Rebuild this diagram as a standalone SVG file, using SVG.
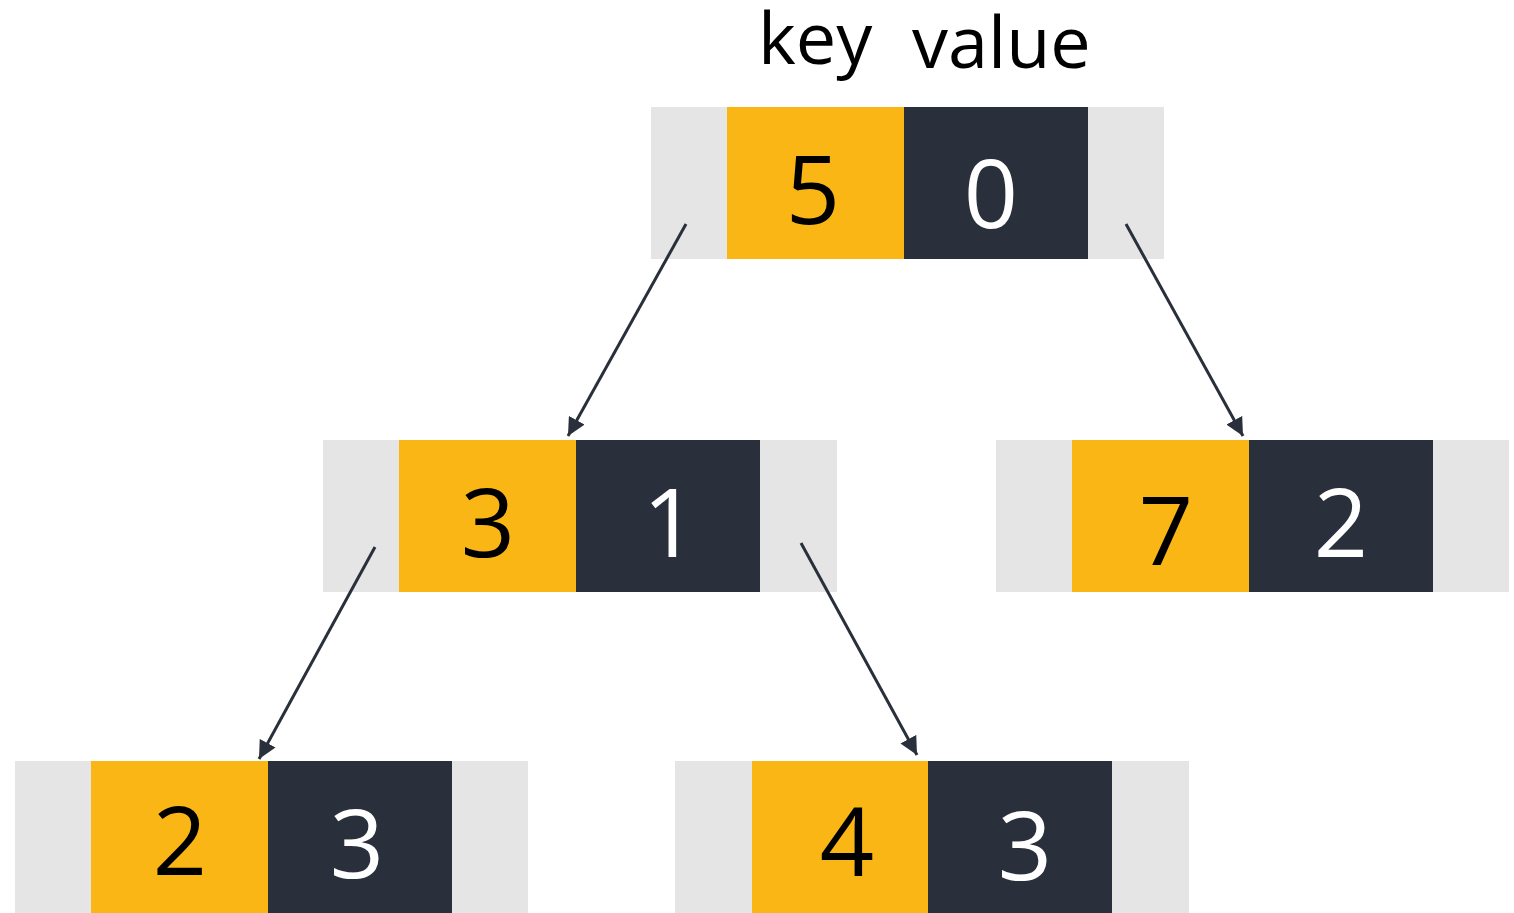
<svg xmlns="http://www.w3.org/2000/svg" width="1514" height="913" viewBox="0 0 1514 913">
<style>
.g{fill:#E5E5E5}.k{fill:#FAB615}.v{fill:#29303B}
.t{font-family:"Open Sans","Noto Sans",sans-serif;font-size:95px;text-anchor:middle}
.tk{fill:#000}.tv{fill:#FFF}
.lbl{font-family:"Open Sans","Noto Sans",sans-serif;font-size:72px;fill:#000}
.c{stroke:#29303B;stroke-width:3;fill:none}
</style>
<defs>
<marker id="ah" viewBox="0 0 10 10" refX="10" refY="5" markerWidth="6" markerHeight="6" markerUnits="strokeWidth" orient="auto">
<path d="M0,0 L10,5 L0,10 Z" fill="#29303B"/>
</marker>
</defs>
<rect width="1514" height="913" fill="#FFF"/>
<g id="header">
<text class="lbl" x="758" y="64">key</text>
<text class="lbl" x="912" y="68">value</text>
</g>
<g id="n5">
<rect class="g" x="651" y="107" width="513" height="152"/>
<rect class="k" x="727" y="107" width="177" height="152"/>
<rect class="v" x="904" y="107" width="184" height="152"/>
<text class="t tk" x="813" y="224">5</text>
<text class="t tv" x="991" y="228">0</text>
</g>
<g id="n3">
<rect class="g" x="323" y="440" width="514" height="152"/>
<rect class="k" x="399" y="440" width="177" height="152"/>
<rect class="v" x="576" y="440" width="184" height="152"/>
<text class="t tk" x="488" y="557">3</text>
<text class="t tv" x="670" y="557">1</text>
</g>
<g id="n7">
<rect class="g" x="996" y="440" width="513" height="152"/>
<rect class="k" x="1072" y="440" width="177" height="152"/>
<rect class="v" x="1249" y="440" width="184" height="152"/>
<text class="t tk" x="1166" y="565">7</text>
<text class="t tv" x="1341" y="557">2</text>
</g>
<g id="n2">
<rect class="g" x="15" y="761" width="513" height="152"/>
<rect class="k" x="91" y="761" width="177" height="152"/>
<rect class="v" x="268" y="761" width="184" height="152"/>
<text class="t tk" x="180" y="875">2</text>
<text class="t tv" x="357" y="878">3</text>
</g>
<g id="n4">
<rect class="g" x="675" y="761" width="514" height="152"/>
<rect class="k" x="752" y="761" width="176" height="152"/>
<rect class="v" x="928" y="761" width="184" height="152"/>
<text class="t tk" x="847" y="876">4</text>
<text class="t tv" x="1025" y="880">3</text>
</g>
<g id="connectors">
<line class="c" x1="686" y1="224" x2="568" y2="436" marker-end="url(#ah)"/>
<line class="c" x1="1126" y1="224" x2="1243" y2="436" marker-end="url(#ah)"/>
<line class="c" x1="375" y1="547" x2="259" y2="759" marker-end="url(#ah)"/>
<line class="c" x1="801" y1="543" x2="917" y2="755" marker-end="url(#ah)"/>
</g>
</svg>
